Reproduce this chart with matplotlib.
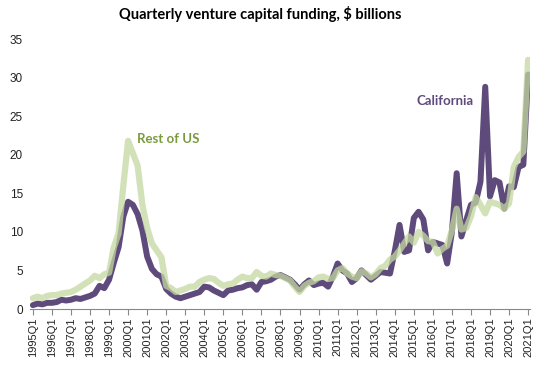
import matplotlib
matplotlib.use("Agg")
import matplotlib.pyplot as plt
import numpy as np

# quarterly VC funding, $bn, 1995Q1 .. 2021Q1
years = list(range(1995, 2022))
california = [
    0.5, 0.7, 0.6, 0.8,   0.8, 0.9, 1.2, 1.1,   1.2, 1.4, 1.3, 1.5,   1.7, 2.0, 3.0, 2.7,   # 95-98
    3.8, 6.0, 8.0, 12.0,  13.9, 13.5, 12.3, 10.2, 6.8, 5.2, 4.5, 4.2,  2.6, 2.0, 1.6, 1.4,  # 99-02
    1.6, 1.8, 2.0, 2.2,   2.9, 2.8, 2.4, 2.1,   1.8, 2.4, 2.5, 2.7,   2.8, 3.1, 3.2, 2.5,   # 03-06
    3.5, 3.6, 3.8, 4.2,   4.4, 4.1, 3.8, 3.2,   2.5, 3.2, 3.7, 3.1,   3.3, 3.4, 2.9, 4.2,   # 07-10
    5.9, 5.0, 4.6, 3.5,   4.0, 5.0, 4.4, 3.8,   4.3, 4.8, 4.7, 4.6,   7.5, 10.9, 7.4, 7.6,  # 11-14
    11.8, 12.6, 11.6, 7.6, 8.7, 8.5, 8.3, 5.9,  10.0, 17.6, 9.4, 11.5, 13.5, 13.8, 16.5, 28.8,  # 15-18
    14.6, 16.7, 16.4, 13.0, 15.9, 15.8, 18.4, 18.7, 30.4,                                      # 19-21Q1
]
rest_of_us = [
    1.4, 1.6, 1.4, 1.7,   1.8, 1.8, 2.0, 2.1,   2.2, 2.5, 2.9, 3.3,   3.7, 4.3, 4.0, 4.5,
    4.7, 8.0, 9.8, 16.0,  21.8, 20.2, 18.6, 13.5, 10.5, 8.5, 7.6, 6.7,  3.0, 2.7, 2.2, 2.4,
    2.6, 2.9, 2.9, 3.5,   3.8, 4.0, 3.9, 3.4,   3.0, 3.2, 3.3, 3.8,   4.2, 4.0, 4.0, 4.8,
    4.3, 4.2, 4.6, 4.4,   4.3, 4.0, 3.7, 2.9,   2.2, 3.0, 3.4, 3.6,   4.1, 4.2, 3.9, 4.0,
    5.0, 5.3, 4.6, 4.2,   4.0, 4.9, 4.6, 4.1,   4.5, 5.3, 5.6, 6.4,   6.8, 7.6, 8.5, 9.4,
    8.6, 10.0, 9.5, 8.8,  8.7, 7.2, 7.8, 8.2,   10.2, 13.0, 10.3, 10.5, 12.0, 14.5, 13.5, 12.4,
    13.9, 13.7, 13.5, 13.0, 13.7, 18.4, 19.7, 20.4, 32.3,
]
tick_labels = [f"{y}Q1" for y in years]

C_CA = "#5e4b7c"
C_US = "#c4d89f"

fig = plt.figure(figsize=(5.41, 3.67), dpi=100)
ax = fig.add_axes([30 / 541, 58 / 367, 500 / 541, 270 / 367])

x = np.arange(len(california))
ax.plot(x, california, color=C_CA, lw=4.3, solid_joinstyle="round", solid_capstyle="round")
ax.plot(x, rest_of_us, color=C_US, lw=4.5, alpha=0.75, solid_joinstyle="round", solid_capstyle="round")

ax.set_xlim(-0.6, 104.4)
ax.set_ylim(0, 35)
ax.set_yticks(range(0, 36, 5))
ax.set_xticks(np.arange(0, len(california), 4))
ax.set_xticklabels(tick_labels, rotation=90, fontsize=8, family="Liberation Sans", color="#222222")
for lab in ax.get_yticklabels():
    lab.set_fontsize(8.5)
    lab.set_family("Liberation Sans")
    lab.set_color("#222222")
ax.tick_params(axis="y", length=0, pad=5)
ax.tick_params(axis="x", length=4, color="#888888", pad=2)

for s in ("top", "right", "left"):
    ax.spines[s].set_visible(False)
ax.spines["bottom"].set_color("#888888")

ax.text(21.8, 22.0, "Rest of US", color="#7a9a3e", fontsize=9.5, fontweight="bold",
        family="Lato", va="center", ha="left")
ax.text(80.6, 27.0, "California", color=C_CA, fontsize=9.5, fontweight="bold",
        family="Lato", va="center", ha="left")

fig.text(260 / 541, 1 - 14 / 367, "Quarterly venture capital funding, $ billions",
         ha="center", va="center", fontsize=10.5, fontweight="bold", family="Lato")

fig.savefig("out.png", dpi=100)
